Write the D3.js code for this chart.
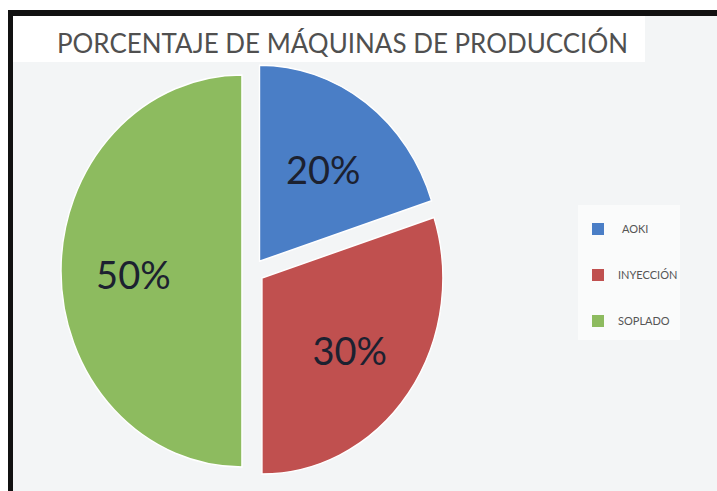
<!DOCTYPE html>
<html><head><meta charset="utf-8">
<script src="https://cdn.jsdelivr.net/npm/d3@7"></script>
<style>html,body{margin:0;padding:0;background:#fff;}svg{display:block;}</style>
</head><body>
<svg id="chart" width="717" height="491"></svg>
<script>
const title = "PORCENTAJE DE MÁQUINAS DE PRODUCCIÓN";
const categories = ["AOKI", "INYECCIÓN", "SOPLADO"];
const values = [20, 30, 50];
const labels = ["20%", "30%", "50%"];
const colors = ["#4a7ec6", "#c0504f", "#8dbb5f"];

const svg = d3.select("#chart");
// frame
svg.append("rect").attr("x",8).attr("y",10).attr("width",709).attr("height",481).attr("fill","#f3f5f6");
svg.append("rect").attr("x",13).attr("y",16).attr("width",632).attr("height",46).attr("fill","#ffffff");
svg.append("rect").attr("x",8).attr("y",10).attr("width",709).attr("height",6).attr("fill","#111");
svg.append("rect").attr("x",8).attr("y",10).attr("width",5).attr("height",481).attr("fill","#111");

// title
const t = svg.append("text").attr("x",57).attr("y",53)
  .attr("font-family","Lato, 'Open Sans', sans-serif").attr("font-size",26)
  .attr("fill","#505050").text(title);
t.attr("textLength",571).attr("lengthAdjust","spacingAndGlyphs");

// pie
const r = 196, cx = 253, cy = 271, sx = 0.923, explode = 12;
const pie = d3.pie().sort(null).value(d => d)(values);
const arc = d3.arc().innerRadius(0).outerRadius(r);
const labelArc = d3.arc().innerRadius(r*0.6).outerRadius(r*0.6);
const g = svg.append("g").attr("transform",`translate(${cx},${cy}) scale(${sx},1)`);
pie.forEach((p,i) => {
  const mid = (p.startAngle + p.endAngle)/2;
  const dx = Math.sin(mid)*explode, dy = -Math.cos(mid)*explode;
  const sg = g.append("g").attr("transform",`translate(${dx},${dy})`);
  sg.append("path").attr("d",arc(p)).attr("fill",colors[i]).attr("stroke","#fff").attr("stroke-width",1.5);
  const c = labelArc.centroid(p);
  sg.append("text")
    .attr("transform",`scale(${1/sx},1)`)
    .attr("x",c[0]*sx).attr("y",c[1]).attr("dy","0.48em")
    .attr("text-anchor","middle")
    .attr("font-family","Lato, 'Open Sans', sans-serif").attr("font-size",38)
    .attr("fill","#1c2130").text(labels[i]);
});

// legend
svg.append("rect").attr("x",578).attr("y",205).attr("width",102).attr("height",135).attr("fill","#fafbfb");
const ly = d3.scalePoint().domain(categories).range([229,321]);
categories.forEach((c,i) => {
  svg.append("rect").attr("x",592).attr("y",ly(c)-6).attr("width",12).attr("height",12).attr("fill",colors[i]);
  svg.append("text").attr("x", i===0 ? 622 : 618).attr("y",ly(c)).attr("dy","0.35em")
    .attr("font-family","Lato, 'Open Sans', sans-serif").attr("font-size",11)
    .attr("fill","#555").text(c);
});
</script>
</body></html>
